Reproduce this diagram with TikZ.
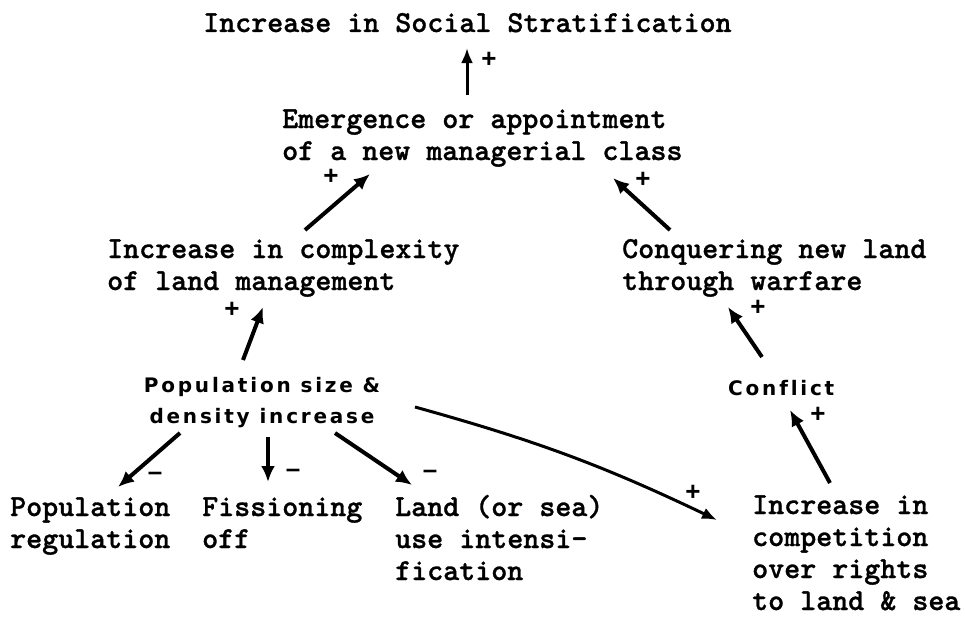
\documentclass[tikz,border=0pt]{standalone}
\usepackage{fontspec}
\newfontfamily\typefont{lmmonolt10-bold.otf}[FakeBold=1]
\newfontfamily\signfont{Liberation Sans}
\newfontfamily\tagfont[LetterSpace=14, Ligatures=NoCommon]{DejaVu Sans}
\usetikzlibrary{positioning, arrows.meta, calc}

\begin{document}
\begin{tikzpicture}[
  x=1pt, y=-1pt,
  typed/.style={
    font=\fontsize{30.5}{32}\selectfont\typefont,
    inner sep=0pt, align=left, anchor=base west
  },
  tag/.style={
    font=\fontsize{20}{31}\selectfont\tagfont\bfseries,
    inner sep=0pt, align=center
  },
  sign/.style={font=\fontsize{26}{26}\selectfont\signfont\bfseries, inner sep=0pt},
  arrow/.style={-{Latex[length=16pt, width=14pt]}, line width=4pt},
  thinarrow/.style={-{Latex[length=15pt, width=12pt]}, line width=3pt}
]
\useasboundingbox (0,0) rectangle (965,618);

% base points are on the last line
\node[typed] (strat) at (203,32) {Increase in Social Stratification};
\node[typed] (emerge) at (282,160) {Emergence or appointment\\of a new managerial class};
\node[typed] (complex) at (107,290) {Increase in complexity\\of land management};
\node[typed] (conquer) at (622,290) {Conquering new land\\through warfare};
\node[tag, anchor=base] (pop) at (262,423) {Population size \&\\density increase};
\node[tag, anchor=base west] (conflict) at (728,395) {Conflict};
\node[typed] (popreg) at (10,548) {Population\\regulation};
\node[typed] (fission) at (202,548) {Fissioning\\off};
\node[typed] (landuse) at (395,580) {Land (or sea)\\use intensi-\\fication};
\node[typed] (compet) at (752,610) {Increase in\\competition\\over rights\\to land \& sea};

% positive links
\draw[thinarrow] ($(emerge.base west)+(185,-65)$) -- node[sign, pos=1, shift={(22,12)}] {+} ($(strat.base west)+(264,16)$);
\draw[arrow] ($(complex.base west)+(198,-60)$) -- node[sign, pos=1, shift={(-39,3)}] {+} ($(emerge.base west)+(88,14)$);
\draw[arrow] ($(conquer.base west)+(48,-60)$) -- node[sign, pos=1, shift={(30,2)}] {+} ($(emerge.base west)+(331,18)$);
\draw[arrow] ($(pop.base)+(-19,-63)$) -- node[sign, pos=1, shift={(-31,3)}] {+} ($(complex.base west)+(156,17)$);
\draw[arrow] ($(conflict.base west)+(34,-38)$) -- node[sign, pos=1, shift={(30,1)}] {+} ($(conquer.base west)+(106,17)$);
\draw[arrow] ($(compet.base west)+(78,-127)$) -- node[sign, pos=1, shift={(28,5)}] {+} ($(conflict.base west)+(62,15)$);
\draw[thinarrow] ($(pop.base)+(153,-16)$) to[bend left=5] node[sign, pos=1, shift={(-24,-27)}] {+} ($(compet.base west)+(-35,-90)$);

% negative links
\draw[arrow] ($(pop.base)+(-82,10)$) -- node[sign, pos=1, shift={(37,-11)}] {–} ($(popreg.base west)+(108,-61)$);
\draw[arrow] ($(pop.base)+(6,14)$) -- node[sign, pos=1, shift={(25,-9)}] {–} ($(fission.base west)+(66,-66)$);
\draw[arrow] ($(pop.base)+(73,10)$) -- node[sign, pos=1, shift={(18,-11)}] {–} ($(landuse.base west)+(17,-95)$);

\end{tikzpicture}
\end{document}
